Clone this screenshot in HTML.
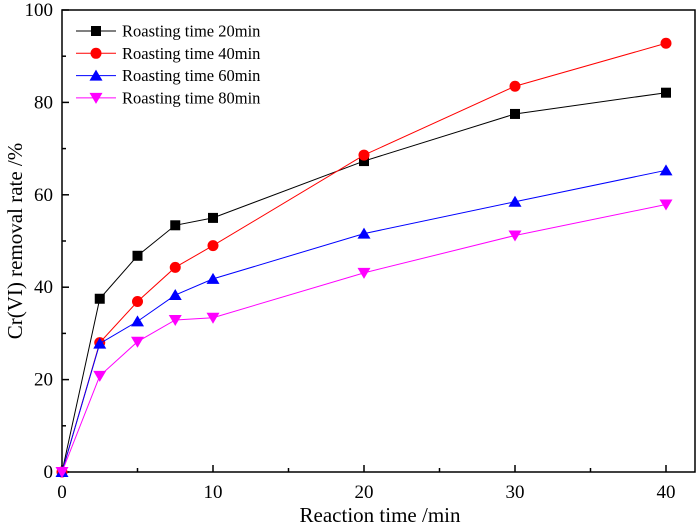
<!DOCTYPE html>
<html><head><meta charset="utf-8"><style>
body{margin:0;background:#fff;}
svg{display:block;font-family:"Liberation Serif",serif;}
</style></head><body>
<svg id="chart" width="700" height="527" viewBox="0 0 700 527"></svg>
<script>
const xValues=[0,2.5,5,7.5,10,20,30,40];
const s20=[0,37.5,46.8,53.4,55.0,67.3,77.5,82.1];
const s40=[0,28.0,36.9,44.3,49.0,68.6,83.5,92.8];
const s60=[0,27.8,32.6,38.3,41.8,51.6,58.5,65.3];
const s80=[0,20.8,28.2,32.9,33.4,43.1,51.2,57.9];
const seriesNames=["Roasting time 20min","Roasting time 40min","Roasting time 60min","Roasting time 80min"];
const xTicks=[0,10,20,30,40];
const yTicks=[0,20,40,60,80,100];

const NS="http://www.w3.org/2000/svg";
const svg=document.getElementById('chart');
const L=62,R=695,T=10,B=472;
const xs=v=>L+v*15.1;
const ys=v=>B-v*(B-T)/100;
function el(tag,attrs,parent){const e=document.createElementNS(NS,tag);for(const k in attrs)e.setAttribute(k,attrs[k]);(parent||svg).appendChild(e);return e;}

const frame=el('rect',{x:L,y:T,width:R-L,height:B-T,fill:'none',stroke:'#000','stroke-width':1.5});



for(let v=0;v<=42;v+=5){
  const major=v%10===0;
  const t=el('line',{x1:xs(v),x2:xs(v),y1:B,y2:B-(major?7:4),stroke:'#000','stroke-width':1.5});
  
  
}
xTicks.forEach(v=>{
  const t=el('text',{x:xs(v),y:B+26,'text-anchor':'middle','font-size':19});
  t.textContent=v;
  
  
});
for(let v=0;v<=100;v+=10){
  const major=v%20===0;
  const t=el('line',{x1:L,x2:L+(major?7:4),y1:ys(v),y2:ys(v),stroke:'#000','stroke-width':1.5});
  
  
}
yTicks.forEach(v=>{
  const t=el('text',{x:L-9,y:ys(v)+6,'text-anchor':'end','font-size':19});
  t.textContent=v;
  
  
});
const xt=el('text',{x:380,y:522,'text-anchor':'middle','font-size':21});
xt.textContent='Reaction time /min';


const yt=el('text',{x:0,y:0,'text-anchor':'middle','font-size':21,transform:'translate(22,241) rotate(-90)'});
yt.textContent='Cr(VI) removal rate /%';



const colors=['#000','#ff0000','#0000ff','#ff00ff'];
const shapes=['square','circle','tri','tridown'];
function marker(g,shape,x,y,c){
  let m;
  if(shape==='square')m=el('rect',{x:x-5,y:y-5,width:10,height:10,fill:c},g);
  else if(shape==='circle')m=el('circle',{cx:x,cy:y,r:5.5,fill:c},g);
  else if(shape==='tri')m=el('polygon',{points:`${x},${y-6} ${x-6.5},${y+5} ${x+6.5},${y+5}`,fill:c},g);
  else m=el('polygon',{points:`${x},${y+6} ${x-6.5},${y-5} ${x+6.5},${y-5}`,fill:c},g);
  return m;
}
[s20,s40,s60,s80].forEach((s,i)=>{
  const g=el('g',{});
  
  
  const line=el('polyline',{points:s.map((v,j)=>xs(xValues[j])+','+ys(v)).join(' '),fill:'none',stroke:colors[i],'stroke-width':1},g);
  
  
  s.forEach((v,j)=>{
    const m=marker(g,shapes[i],xs(xValues[j]),ys(v),colors[i]);
    
    
  });
  const ly=31+i*22.3;
  const lg=el('g',{},svg);
  
  
  el('line',{x1:76,x2:116,y1:ly,y2:ly,stroke:colors[i],'stroke-width':1},lg);
  marker(lg,shapes[i],96,ly,colors[i]);
  const lt=el('text',{x:122,y:ly+5.5,'font-size':16.5},lg);
  lt.textContent=seriesNames[i];
});
</script>
</body></html>
